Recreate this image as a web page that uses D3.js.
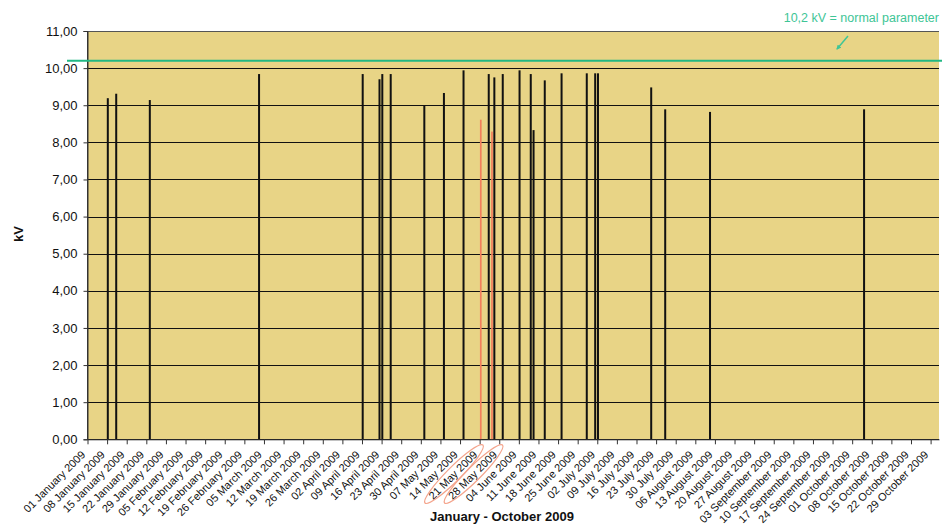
<!DOCTYPE html>
<html>
<head>
<meta charset="utf-8">
<script src="https://cdn.jsdelivr.net/npm/d3@7"></script>
<style>
  html, body { margin: 0; padding: 0; background: #ffffff; }
  svg { display: block; font-family: "Liberation Sans", Arial, sans-serif; }
</style>
</head>
<body>
<svg id="chart" width="942" height="527"></svg>
<script>
// Daily voltage peaks (kV), January - October 2009
const readingDates = [
  "2009-01-08", "2009-01-11", "2009-01-23", "2009-03-03", "2009-04-09",
  "2009-04-15", "2009-04-16", "2009-04-19", "2009-05-01", "2009-05-08",
  "2009-05-15", "2009-05-24", "2009-05-26", "2009-05-29", "2009-06-04",
  "2009-06-08", "2009-06-09", "2009-06-13", "2009-06-19", "2009-06-28",
  "2009-07-01", "2009-07-02", "2009-07-21", "2009-07-26", "2009-08-11",
  "2009-10-05"
];
const readingValues = [
  9.19, 9.31, 9.14, 9.84, 9.84,
  9.70, 9.84, 9.84, 8.99, 9.33,
  9.94, 9.84, 9.75, 9.84, 9.94,
  9.84, 8.33, 9.67, 9.86, 9.86,
  9.86, 9.86, 9.48, 8.89, 8.82,
  8.89
];

// Highlighted readings (drawn in red) and the labels circled beneath them
const highlightDates = ["2009-05-21", "2009-05-25"];
const highlightValues = [8.61, 8.29];
const circledLabels = ["21 May 2009", "28 May 2009"];

// Reference level
const normalLevel = 10.2;
const normalLabel = "10,2 kV = normal parameter";

// Axis settings
const periodStart = "2009-01-01";
const periodEnd = "2009-11-01";
const yTicks = [0, 1, 2, 3, 4, 5, 6, 7, 8, 9, 10, 11];
const xTitle = "January - October 2009";
const yTitle = "kV";

const parse = d3.timeParse("%Y-%m-%d");
const fmtTick = d3.timeFormat("%d %B %Y");
const fmtY = v => d3.format(".2f")(v).replace(".", ",");

const svg = d3.select("#chart");
const plotL = 87.5, plotR = 939, plotT = 31, plotB = 439.3;

const x = d3.scaleTime().domain([parse(periodStart), parse(periodEnd)]).range([plotL, plotR]);
const y = d3.scaleLinear().domain([0, 11]).range([plotB, plotT]);

// plot background
svg.append("rect")
  .attr("x", plotL).attr("y", plotT)
  .attr("width", plotR - plotL).attr("height", plotB - plotT)
  .attr("fill", "#E8D486");

// horizontal gridlines
svg.append("g").selectAll("line").data(yTicks).join("line")
  .attr("x1", plotL).attr("x2", plotR)
  .attr("y1", d => Math.round(y(d)) + 0.5).attr("y2", d => Math.round(y(d)) + 0.5)
  .attr("stroke", d => d === 11 ? "#555" : "#111").attr("stroke-width", 1);

// reading bars
svg.append("g").selectAll("rect").data(readingDates.map((d, i) => ({ d: parse(d), v: readingValues[i] })))
  .join("rect")
  .attr("x", d => x(d.d) - 0.3)
  .attr("width", 2)
  .attr("y", d => y(d.v))
  .attr("height", d => y(0) - y(d.v))
  .attr("fill", "#111");

// highlighted bars
svg.append("g").selectAll("rect").data(highlightDates.map((d, i) => ({ d: parse(d), v: highlightValues[i] })))
  .join("rect")
  .attr("x", d => x(d.d) + 0.3)
  .attr("width", 1.7)
  .attr("y", d => y(d.v))
  .attr("height", d => y(0) - y(d.v))
  .attr("fill", "#F27F5C");

// y axis
const yAxis = svg.append("g")
  .attr("transform", `translate(${plotL},0)`)
  .call(d3.axisLeft(y).tickValues(yTicks).tickFormat(fmtY).tickSize(4).tickPadding(6));
yAxis.select(".domain").attr("stroke", "#333");
yAxis.selectAll(".tick line").attr("stroke", "#333");
yAxis.selectAll("text").attr("font-size", 13).attr("fill", "#111")
  .attr("font-family", "'Liberation Sans', Arial, sans-serif");

// x axis with weekly ticks
const weekTicks = d3.timeDay.range(parse(periodStart), parse(periodEnd), 7);
const xAxis = svg.append("g")
  .attr("transform", `translate(0,${plotB})`)
  .call(d3.axisBottom(x).tickValues(weekTicks).tickFormat(fmtTick).tickSize(5).tickSizeOuter(0));
xAxis.select(".domain").attr("stroke", "#333");
xAxis.selectAll(".tick line").attr("stroke", "#333");
xAxis.selectAll("text")
  .attr("font-size", 11).attr("fill", "#111")
  .attr("font-family", "'Liberation Sans', Arial, sans-serif")
  .attr("text-anchor", "end")
  .attr("x", 0).attr("y", 0).attr("dy", 0)
  .attr("transform", "translate(-2,16) rotate(-45)");

// circled labels
const circleG = svg.append("g");
weekTicks.forEach(t => {
  const label = fmtTick(t);
  if (circledLabels.includes(label)) {
    circleG.append("ellipse")
      .attr("transform", `translate(${x(t) - 2},${plotB + 16}) rotate(-45)`)
      .attr("cx", -30).attr("cy", -3.5)
      .attr("rx", 41).attr("ry", 7)
      .attr("fill", "none")
      .attr("stroke", "#F4A48C").attr("stroke-width", 1.2);
  }
});

// left plot border
svg.append("line")
  .attr("x1", plotL).attr("x2", plotL).attr("y1", plotT).attr("y2", plotB)
  .attr("stroke", "#333");

// normal parameter line
svg.append("line")
  .attr("x1", 67).attr("x2", 942)
  .attr("y1", y(normalLevel)).attr("y2", y(normalLevel))
  .attr("stroke", "#22B884").attr("stroke-width", 2);

svg.append("text")
  .attr("x", 939).attr("y", 22)
  .attr("text-anchor", "end")
  .attr("font-size", 12.5)
  .attr("fill", "#3EC596")
  .text(normalLabel);

// arrow pointing to the line
svg.append("defs").append("marker")
  .attr("id", "arrowHead")
  .attr("viewBox", "0 0 10 10").attr("refX", 8).attr("refY", 5)
  .attr("markerWidth", 3.2).attr("markerHeight", 3.2)
  .attr("orient", "auto")
  .append("path").attr("d", "M0,0 L10,5 L0,10 z").attr("fill", "#3EC596");
svg.append("line")
  .attr("x1", 848).attr("y1", 36).attr("x2", 837).attr("y2", 49)
  .attr("stroke", "#3EC596").attr("stroke-width", 1.5)
  .attr("marker-end", "url(#arrowHead)");

// axis titles
svg.append("text")
  .attr("x", 502).attr("y", 521)
  .attr("text-anchor", "middle")
  .attr("font-size", 13).attr("font-weight", "bold").attr("fill", "#111")
  .text(xTitle);

svg.append("text")
  .attr("transform", "translate(23,234) rotate(-90)")
  .attr("text-anchor", "middle")
  .attr("font-size", 13).attr("font-weight", "bold").attr("fill", "#111")
  .text(yTitle);
</script>
</body>
</html>
